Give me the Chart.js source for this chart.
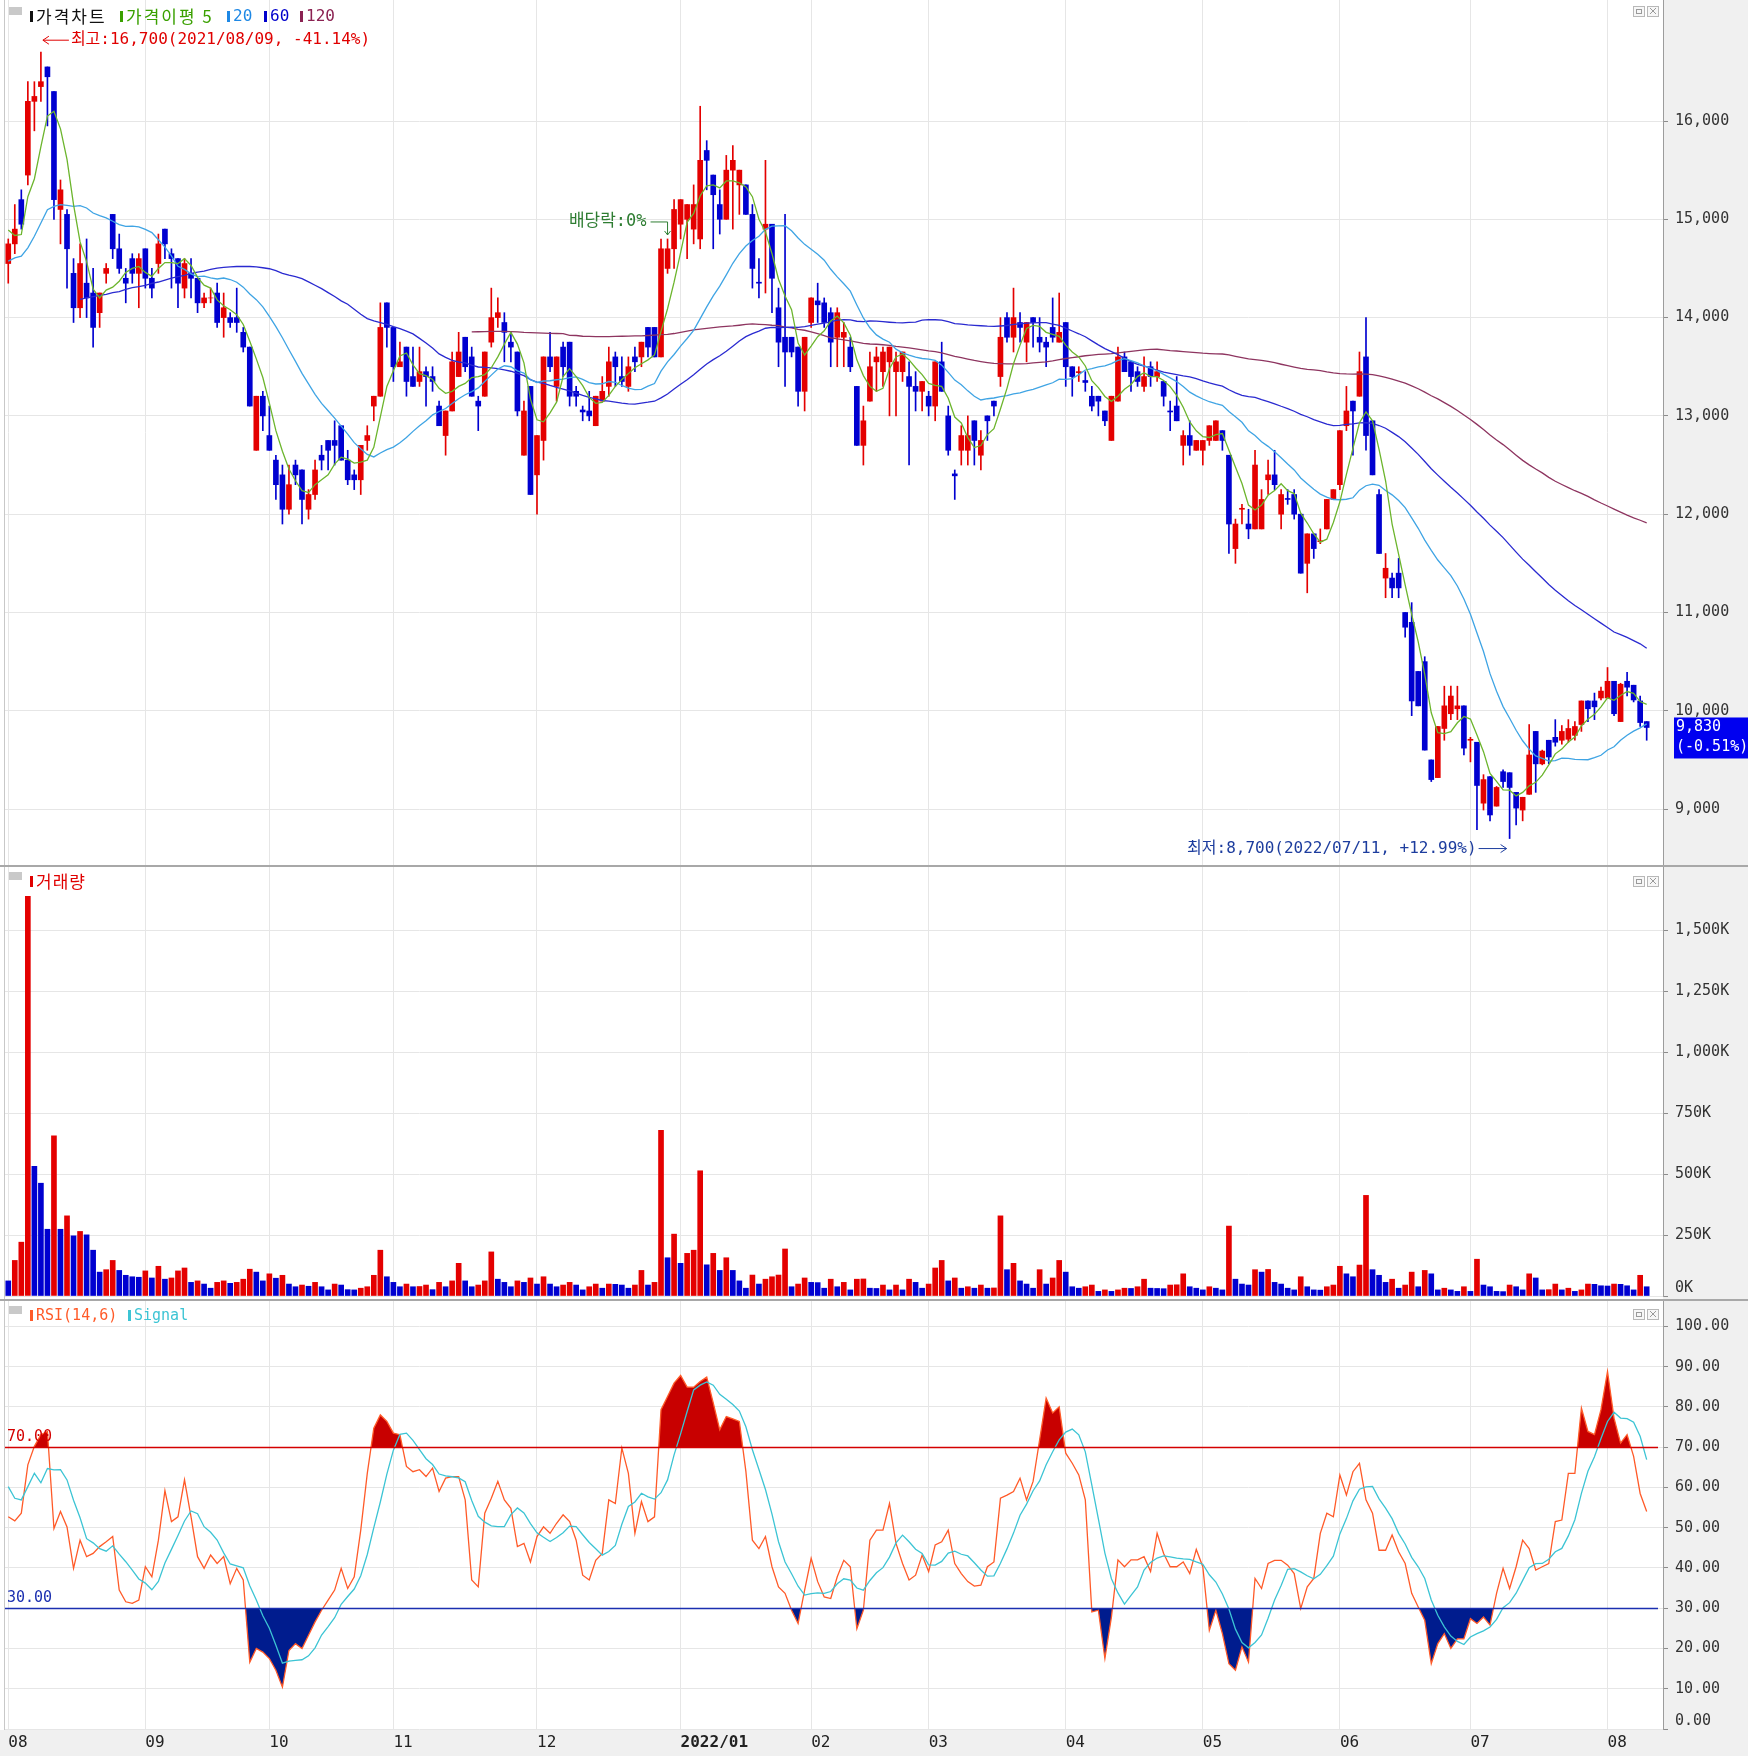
<!DOCTYPE html>
<html lang="ko">
<head>
<meta charset="utf-8">
<title>가격차트</title>
<script src="https://cdn.jsdelivr.net/npm/chart.js@4.4.1/dist/chart.umd.min.js"></script>
<style>
  html, body { margin: 0; padding: 0; }
  body { width: 1748px; height: 1756px; background: #f0f0f0; position: relative; overflow: hidden; }
  .plotbg { position: absolute; left: 0; width: 1663px; background: #fff; }
  canvas { position: absolute; left: 0; }
  .sep { position: absolute; left: 0; width: 1748px; height: 2px; background: #a8a8a8; }
  .vline { position: absolute; left: 4px; top: 0; width: 1px; height: 1730px; background: #c8c8c8; }
</style>
</head>
<body>
<div class="plotbg" style="top:0;height:865px"></div>
<div class="plotbg" style="top:867px;height:432px"></div>
<div class="plotbg" style="top:1301px;height:429px"></div>
<div class="vline"></div>
<canvas id="price" width="1748" height="865" style="top:0"></canvas>
<canvas id="volume" width="1748" height="432" style="top:867px"></canvas>
<canvas id="rsi" width="1748" height="455" style="top:1301px"></canvas>
<div class="sep" style="top:865px"></div>
<div class="sep" style="top:1299px"></div>
<script>
// 일봉 2021/08/02 ~ 2022/08/09
const monthStart = [0, 21, 40, 59, 81, 103, 123, 141, 162, 183, 204, 224, 245]
const monthLabel = ['08', '09', '10', '11', '12', '2022/01', '02', '03', '04', '05', '06', '07', '08']
const priceTicks = [9000, 10000, 11000, 12000, 13000, 14000, 15000, 16000]
const volumeTicks = [0, 250, 500, 750, 1000, 1250, 1500]
const rsiTicks = [0, 10, 20, 30, 40, 50, 60, 70, 80, 90, 100]

const open = [
14550,14750,15200,15450,16200,16350,16550,16300,15100,15050,
14450,14100,14350,14250,14050,14450,15050,14700,14400,14600,
14450,14700,14400,14550,14900,14650,14600,14300,14450,14400,
14150,14200,14250,14000,14000,14000,13850,13700,12650,13200,
12800,12550,12400,12050,12500,12450,12050,12200,12600,12750,
12750,12900,12550,12400,12350,12750,13100,13200,14150,13900,
13500,13700,13400,13350,13450,13400,13100,12800,13050,13400,
13800,13600,13150,13200,13750,14000,13950,13750,13650,12600,
13300,12400,12750,13600,13300,13700,13750,13250,13060,13050,
12900,13150,13300,13600,13400,13300,13600,13600,13900,13900,
13600,14500,14700,14950,15000,14900,14800,15700,15450,15150,
15000,15500,15350,15350,15050,14360,14900,14950,14100,13800,
13800,13700,13250,13950,14170,14150,14050,13800,13800,13700,
13300,12700,13150,13550,13450,13550,13450,13450,13400,13300,
13250,13200,13100,13550,13000,12410,12650,12650,12950,12600,
13000,13150,13400,14000,13800,13950,13750,14000,13800,13750,
13900,13750,13950,13500,13440,13360,13200,13200,13050,12750,
13150,13600,13550,13450,13300,13500,13400,13350,13050,13100,
12700,12800,12650,12650,12750,12750,12850,12600,11650,12050,
11900,11850,11850,12350,12400,12000,12160,12200,12000,11500,
11800,11720,11850,12150,12300,12900,13150,13200,13600,12950,
12200,11350,11350,11400,11000,10900,10400,10500,9500,9320,
9820,9970,10020,10050,9700,9680,9060,9330,9030,9380,
9370,9170,8990,9150,9790,9460,9700,9730,9700,9710,
9750,9860,10100,10100,10130,10130,10300,9890,10300,10260,
10100,9890]

const high = [
14800,15150,15300,16400,16400,16700,16550,16300,15400,15100,
14600,14750,14800,14500,14250,14550,15050,14850,14500,14650,
14650,14700,14500,14850,14900,14700,14600,14600,14600,14400,
14250,14300,14350,14250,14050,14300,13900,13700,13200,13250,
13100,12600,12500,12500,12550,12450,12250,12550,12700,12750,
12950,12900,12650,12450,12700,12900,13200,14150,14150,13900,
13750,13700,13700,13700,13500,13500,13150,13050,13650,13850,
13800,13700,13200,13650,14300,14200,14050,13850,13650,13150,
13300,12800,13600,13850,13600,13750,13750,13300,13100,13250,
13200,13400,13700,13650,13600,13600,13700,13750,13900,13900,
14800,14800,15200,15200,15150,15350,16150,15800,15450,15300,
15650,15750,15500,15350,15150,14600,15600,14950,14300,15050,
13800,13700,13800,14200,14350,14200,14100,14100,13950,13800,
13300,13100,13650,13700,13700,13700,13650,13650,13550,13450,
13350,13250,13550,13750,13100,12450,12900,13000,12950,12850,
13000,13150,14000,14050,14300,14050,13950,14000,14000,13800,
14200,14250,13950,13500,13500,13450,13300,13200,13050,13200,
13700,13650,13550,13500,13600,13550,13550,13350,13150,13400,
12850,12950,12750,12750,12900,12950,12850,12600,11950,12100,
12050,12650,12250,12550,12650,12250,12250,12250,12000,11800,
11800,11850,12150,12250,12850,13300,13150,13650,14000,12950,
12250,11600,11400,11550,11000,11100,10400,10550,9500,9840,
10250,10250,10250,10050,9730,9680,9350,9330,9230,9400,
9370,9170,9120,9860,9790,9600,9700,9910,9850,9910,
9890,10100,10100,10180,10240,10440,10300,10280,10390,10260,
10150,9890]

const low = [
14350,14650,14900,15350,15900,16200,15950,15000,14750,14300,
13950,14000,14000,13700,13900,14350,14600,14450,14150,14350,
14100,14300,14200,14450,14600,14300,14100,14200,14200,14050,
14100,14150,13900,13800,13900,13850,13650,13100,12650,12850,
12650,12150,11900,12000,12300,11900,11950,12150,12450,12450,
12500,12550,12300,12250,12200,12650,12950,13200,13700,13350,
13500,13200,13300,13300,13100,13250,12900,12600,13050,13400,
13450,13200,12850,13200,13700,13900,13550,13550,13000,12600,
12200,12000,12550,13450,13150,13400,13100,13100,12950,12950,
12900,13150,13200,13300,13300,13250,13450,13500,13600,13600,
13600,14450,14500,14800,14600,14750,14700,15300,14700,14850,
15000,14900,15050,15050,14300,14200,14250,14050,13500,13300,
13600,13100,13050,13900,13950,13900,13500,13500,13500,13450,
12700,12500,13150,13250,13300,13000,13000,13350,12500,13050,
13050,13000,12950,13250,12600,12150,12500,12500,12500,12450,
12750,13000,13300,13750,13650,13750,13550,13700,13650,13500,
13750,13750,13300,13200,13350,13250,13050,13000,12900,12750,
13150,13450,13250,13300,13250,13300,13350,13100,12850,12950,
12500,12600,12650,12500,12700,12750,12650,11600,11500,11900,
11750,11850,11850,12200,12250,11850,12100,11950,11400,11200,
11550,11700,11850,12150,12250,12850,12600,13200,12650,12400,
11600,11150,11150,11150,10750,9950,10050,9600,9280,9320,
9700,9910,9910,9550,9480,8790,8990,8880,9030,9220,
8700,8840,8880,9150,9170,9450,9460,9640,9660,9680,
9700,9790,9890,9910,10110,10130,9950,9890,10150,10090,
9840,9700]

const close = [
14750,14900,14950,16200,16250,16400,16450,15200,15300,14700,
14100,14550,14200,13900,14250,14500,14700,14500,14350,14450,
14600,14400,14300,14750,14750,14600,14350,14550,14400,14150,
14200,14200,13950,14100,13950,13950,13700,13100,13200,13000,
12650,12300,12050,12300,12400,12150,12200,12450,12550,12650,
12700,12550,12350,12350,12700,12800,13200,13900,13900,13500,
13550,13350,13300,13450,13400,13350,12900,13050,13550,13650,
13500,13200,13100,13650,14000,14050,13850,13700,13050,13050,
12200,12800,13600,13500,13600,13500,13200,13200,13040,13000,
13200,13250,13550,13500,13350,13500,13550,13750,13700,13600,
14700,14700,15100,15200,15150,15150,15600,15600,15250,15000,
15500,15600,15500,15050,14500,14350,14950,14400,13750,13650,
13650,13250,13800,14200,14130,13950,13750,14050,13850,13500,
12700,12950,13500,13600,13650,13700,13550,13650,13300,13250,
13350,13100,13550,13250,12650,12390,12800,12800,12750,12750,
12950,13100,13800,13800,14000,13900,13950,13950,13750,13700,
13800,13850,13500,13400,13450,13340,13100,13150,12950,13200,
13600,13450,13400,13350,13400,13400,13450,13200,13040,12950,
12800,12700,12750,12750,12900,12950,12750,11900,11900,12060,
11850,12500,12150,12400,12300,12200,12150,12000,11400,11800,
11650,11730,12150,12250,12850,13050,13050,13450,12800,12400,
11600,11450,11250,11250,10850,10100,10050,9600,9300,9840,
10050,10150,10050,9620,9710,9240,9300,8940,9220,9280,
9220,9010,9120,9550,9460,9590,9530,9680,9790,9820,
9840,10100,10020,10040,10200,10300,9970,10270,10240,10110,
9880,9830]

// 거래량 (천주)
const volume = [
62,146,221,1641,532,463,274,657,274,329,
247,265,251,188,98,108,146,105,85,79,
77,103,74,122,69,74,103,115,56,62,
49,32,56,62,52,56,69,110,98,62,
91,73,85,49,38,45,40,56,38,25,
49,45,26,25,32,38,85,188,79,56,
38,49,38,39,45,26,56,38,62,134,
62,38,45,62,181,69,56,38,62,56,
74,49,79,49,38,45,56,45,25,38,
49,32,49,48,45,32,45,105,45,56,
680,157,254,134,175,188,514,128,175,105,
157,105,62,32,86,49,69,79,86,193,
38,49,74,56,55,32,69,38,56,25,
69,70,32,31,45,25,45,25,69,56,
32,49,115,146,62,74,32,38,32,45,
32,33,329,108,134,62,49,32,108,49,
74,146,98,38,32,38,45,19,25,19,
25,32,31,38,69,32,31,30,45,46,
91,38,32,25,38,32,25,287,69,49,
45,108,98,109,56,49,32,25,79,38,
25,24,38,45,122,91,79,127,413,108,
85,56,69,32,45,98,38,105,91,25,
32,25,19,38,19,151,45,38,19,18,
45,38,25,91,74,25,26,49,25,32,
19,25,49,48,42,41,49,48,42,25,
85,38]

const rsi = [
52.7,51.7,53.6,65.6,70.2,73.1,73.9,49.8,54,50.2,
39.9,46.9,42.8,43.6,45.3,46.5,47.8,34.5,31.6,31.2,
32,40.3,37.8,46.9,59.2,51.5,52.7,61.9,52.7,42.8,
39.9,43.2,41.1,42.8,36.1,39.9,37,16.6,20,19.1,
17.5,14.6,10.4,19.5,21.2,20,23.3,26.6,29.5,32,
34.5,39.9,34.9,37.8,49.4,63.5,74.7,78,76.4,73.5,
73.1,65.2,63.9,64.4,62.7,64.8,59,62.3,62.7,62.7,
56.9,37,35.3,53.6,57.3,61.5,56.9,54.8,45.3,46.1,
41.5,47.8,50.2,48.6,51.1,53.2,51.5,46.9,38.2,37,
41.9,43.6,56.9,56,69.8,63.5,48.6,56.5,51.5,52.7,
79.3,82.6,85.9,87.8,84.9,84.9,86.3,87.4,81,74.3,
77.6,77,76.4,64,46.9,44.8,47.8,40.3,35.3,33.7,
29.5,26.2,34.5,42.4,36.6,32.8,32.4,37.8,41.9,40.3,
24.9,29.5,46.9,49.4,49.4,56,46.1,41.1,37,38.2,
43.2,39.1,45.7,46.5,49.4,41.1,38.6,36.6,35.5,35.7,
40.3,41.5,57.3,58.1,59,62.3,56.9,61.5,71.8,82.2,
78.5,80,68.5,66,63.1,56.9,29.1,29.5,17.5,27.8,
42,40.3,42,42,42.8,39.1,48.6,43.6,40.3,40.3,
41.5,38.6,44.6,40.3,24.5,29.5,23.7,16.2,14.6,20.4,
16.6,37.4,34.9,41.1,41.9,41.9,40.7,38.6,29.9,35.3,
37.4,48.6,53.6,52.7,63.1,58.1,63.9,66,56.9,53.6,
44.4,44.4,48.2,44,41.1,33.7,30.3,27,16.2,21.2,
23.7,20,22.4,22.4,27.4,26.2,27.8,25.8,33.7,39.9,
34.9,40.3,46.9,44.8,39.5,40.3,41.1,51.5,51.9,63.5,
63.5,79.7,73.9,73.1,79.3,88.8,77.2,71,73.1,67.7,
58.5,54]

// 차트 시작 전 데이터가 필요한 구간은 그림에서 읽은 값
const ma5Lead = [14890, 14835, 14845, 15230]
const ma20Lead = [14574,14608,14625,14710,14828,14963,15098,15132,15149,15142,15132,15139,15115,15064,15037,15014,14980,14946,14929]
const ma60Start = 11
const ma60Lead = [14186,14200,14213,14227,14237,14254,14264,14287,14304,14314,14328,14348,14362,14382,14402,14416,
  14429,14449,14463,14473,14490,14504,14510,14517,14520,14520,14520,14517,14507,14497,14477,14449,
  14431,14417,14397,14363,14329,14295,14254,14214,14170,14136,14085,14034,13990,13966,13949,13932]
const ma120Start = 71
const ma120Lead = [13854,13856,13858,13860,13860,13860,13858,13855,13850,13848,13845,13842,13840,13838,13836,
  13820,13818,13810,13808,13807,13807,13807,13808,13810,13812,13813,13815,13818,13822,13826,13830,13838,
  13850,13862,13874,13882,13891,13898,13905,13910,13915,13922,13930,13936,13932,13928,13922,13918]
const signalLead = [60.2, 57.3, 56.9, 60.2, 63.5]

const highDate = '2021/08/09'
const lowDate = '2022/07/11'
const exDivIndex = 101
const rsiUpper = 70
const rsiLower = 30

const RED = '#e40000'
const BLUE = '#0000d0'
const GRID = '#e6e6e6'
const MONO = "'DejaVu Sans Mono', 'Noto Sans CJK KR', monospace"
const KOR = "'Noto Sans CJK KR', sans-serif"
Chart.defaults.font.family = MONO

const N = close.length
const labels = Array.from({ length: N + 2 }, (_, i) => i)

const movingAvg = (src, n, lead, leadStart) => src.map((_, i) => {
  if (i >= n - 1) {
    let s = 0
    for (let k = i - n + 1; k <= i; k++) s += src[k]
    return s / n
  }
  const j = i - leadStart
  return j >= 0 && j < lead.length ? lead[j] : null
})

const ma5 = movingAvg(close, 5, ma5Lead, 0)
const ma20 = movingAvg(close, 20, ma20Lead, 0)
const ma60 = movingAvg(close, 60, ma60Lead, ma60Start)
const ma120 = movingAvg(close, 120, ma120Lead, ma120Start)
const signal = movingAvg(rsi, 6, signalLead, 0)

const candleColor = close.map((c, i) => c >= open[i] ? RED : BLUE)
const volumeColor = volume.map((v, i) => i > 0 && v > volume[i - 1] ? RED : BLUE)

const fmt = v => v.toLocaleString('en-US')
const pct = (a, b) => {
  const p = (a / b - 1) * 100
  return (p >= 0 ? '+' : '') + p.toFixed(2) + '%'
}

const xScale = showLabels => ({
  type: 'category',
  offset: true,
  grid: { offset: false, color: GRID, drawTicks: false },
  border: { display: false },
  ticks: {
    display: showLabels,
    autoSkip: false,
    maxRotation: 0,
    align: 'start',
    padding: 4,
    color: '#222',
    font: ctx => ({ family: MONO, size: 16, weight: ctx.index === 5 ? 'bold' : 'normal' }),
    callback: (v, k) => monthLabel[k]
  },
  afterBuildTicks: s => { s.ticks = monthStart.map(v => ({ value: v })) },
  afterFit: s => {
    s.height = showLabels ? 27 : 0
    s.paddingLeft = 0
    s.paddingRight = 0
  }
})

// 맨 아래 눈금 글자(0)는 플러그인에서 조금 위로 올려 그림
const yScale = (min, max, ticks, label) => ({
  position: 'right',
  min, max,
  beginAtZero: false,
  grid: { color: GRID, tickColor: '#8c8c8c', tickLength: 5 },
  border: { display: true, color: '#9c9c9c' },
  ticks: { color: '#333', padding: 7, font: { family: MONO, size: 15 }, callback: v => v === 0 ? '' : label(v) },
  afterBuildTicks: s => { s.ticks = ticks.map(v => ({ value: v })) },
  afterFit: s => {
    s.width = 85
    s.paddingTop = 0
    s.paddingBottom = 0
  }
})

const drawZeroLabel = (chart, text) => {
  const { ctx, chartArea: a, scales: { y } } = chart
  ctx.save()
  ctx.fillStyle = '#333'
  ctx.font = `15px ${MONO}`
  ctx.textAlign = 'left'
  ctx.textBaseline = 'middle'
  ctx.fillText(text, a.right + 12, y.getPixelForValue(0) - 8)
  ctx.restore()
}

// 범례: 색 막대 + 글자, 각 항목의 x 위치를 지정
const drawLegend = (ctx, y, items) => {
  ctx.save()
  ctx.textBaseline = 'middle'
  ctx.textAlign = 'left'
  ctx.fillStyle = '#c9c9c9'
  ctx.fillRect(9, y - 9, 13, 8)
  for (const it of items) {
    ctx.fillStyle = it.mark || it.color
    ctx.fillRect(it.at, y - 5, 3, 11)
    ctx.fillStyle = it.color
    ctx.font = it.font
    ctx.letterSpacing = it.spacing || '0px'
    ctx.fillText(it.text, it.at + 6, y + 1)
  }
  ctx.restore()
}

const drawWinIcons = (ctx, y) => {
  ctx.save()
  ctx.strokeStyle = '#b8b8b8'
  ctx.fillStyle = '#f7f7f7'
  for (const bx of [1633, 1647]) {
    ctx.fillRect(bx, y, 11, 10)
    ctx.strokeRect(bx + 0.5, y + 0.5, 11, 10)
  }
  ctx.strokeStyle = '#9a9a9a'
  ctx.strokeRect(1636.5, y + 3.5, 5, 4)
  ctx.beginPath()
  ctx.moveTo(1650, y + 2); ctx.lineTo(1656, y + 8)
  ctx.moveTo(1656, y + 2); ctx.lineTo(1650, y + 8)
  ctx.stroke()
  ctx.restore()
}

const priceDeco = {
  id: 'priceDeco',
  afterDraw(chart) {
    const { ctx, scales: { x, y } } = chart
    drawLegend(ctx, 16, [
      { at: 30, text: '가격차트', color: '#111', font: `17px ${KOR}`, spacing: '2px' },
      { at: 120, text: '가격이평 5', color: '#3aa000', font: `17px ${KOR}`, spacing: '2px' },
      { at: 227, text: '20', color: '#1e88e5', font: `16px ${MONO}` },
      { at: 264, text: '60', color: '#0000cc', font: `16px ${MONO}` },
      { at: 300, text: '120', color: '#8b2252', font: `16px ${MONO}` }
    ])
    drawWinIcons(ctx, 6)

    ctx.save()
    ctx.lineWidth = 1
    ctx.textBaseline = 'middle'
    const last = close[N - 1]

    // 최고가
    const hi = high.indexOf(Math.max(...high))
    const hx = x.getPixelForValue(hi) + 2
    const hy = y.getPixelForValue(high[hi]) - 12
    ctx.strokeStyle = ctx.fillStyle = '#e00000'
    ctx.beginPath()
    ctx.moveTo(hx, hy); ctx.lineTo(hx + 26, hy)
    ctx.moveTo(hx, hy); ctx.lineTo(hx + 6, hy - 4)
    ctx.moveTo(hx, hy); ctx.lineTo(hx + 6, hy + 4)
    ctx.stroke()
    ctx.font = `16px ${MONO}`
    ctx.textAlign = 'left'
    ctx.fillText(`최고:${fmt(high[hi])}(${highDate}, ${pct(last, high[hi])})`, hx + 28, hy)

    // 최저가
    const lo = low.indexOf(Math.min(...low))
    const lx = x.getPixelForValue(lo) - 3
    const ly = y.getPixelForValue(low[lo]) + 10
    ctx.strokeStyle = ctx.fillStyle = '#1d3d9e'
    ctx.beginPath()
    ctx.moveTo(lx - 28, ly); ctx.lineTo(lx, ly)
    ctx.moveTo(lx, ly); ctx.lineTo(lx - 6, ly - 4)
    ctx.moveTo(lx, ly); ctx.lineTo(lx - 6, ly + 4)
    ctx.stroke()
    ctx.textAlign = 'right'
    ctx.fillText(`최저:${fmt(low[lo])}(${lowDate}, ${pct(last, low[lo])})`, lx - 30, ly)

    // 배당락
    const ex = x.getPixelForValue(exDivIndex)
    const ey = y.getPixelForValue(high[exDivIndex])
    ctx.strokeStyle = ctx.fillStyle = '#2e7d32'
    ctx.beginPath()
    ctx.moveTo(ex - 17, ey - 17); ctx.lineTo(ex, ey - 17); ctx.lineTo(ex, ey - 4)
    ctx.moveTo(ex - 3, ey - 8); ctx.lineTo(ex, ey - 4); ctx.lineTo(ex + 3, ey - 8)
    ctx.stroke()
    ctx.font = `17px ${MONO}`
    ctx.fillText('배당락:0%', ex - 21, ey - 17)

    // 현재가 박스
    const cy = y.getPixelForValue(last)
    ctx.fillStyle = '#0000f0'
    ctx.fillRect(1674, cy - 10, 74, 41)
    ctx.fillStyle = '#fff'
    ctx.textAlign = 'left'
    ctx.font = `15px ${MONO}`
    ctx.fillText(fmt(last), 1676, cy)
    ctx.fillText(`(${pct(last, close[N - 2])})`, 1676, cy + 20)
    ctx.restore()
  }
}

const volumeDeco = {
  id: 'volumeDeco',
  afterDraw(chart) {
    drawLegend(chart.ctx, 14, [{ at: 30, text: '거래량', color: '#e00000', font: `17px ${KOR}`, spacing: '1px' }])
    drawWinIcons(chart.ctx, 9)
    drawZeroLabel(chart, '0K')
  }
}

const rsiDeco = {
  id: 'rsiDeco',
  afterDatasetsDraw(chart) {
    const { ctx, chartArea: a, scales: { y } } = chart
    ctx.save()
    ctx.lineWidth = 1.5
    for (const [v, c] of [[rsiUpper, '#d40000'], [rsiLower, '#1b2fb0']]) {
      const py = Math.round(y.getPixelForValue(v)) + 0.5
      ctx.strokeStyle = c
      ctx.beginPath(); ctx.moveTo(a.left, py); ctx.lineTo(a.right - 5, py); ctx.stroke()
      ctx.fillStyle = c
      ctx.font = `15px ${MONO}`
      ctx.textBaseline = 'middle'
      ctx.fillText(v.toFixed(2), 7, py - 10)
    }
    ctx.restore()
  },
  afterDraw(chart) {
    drawLegend(chart.ctx, 14, [
      { at: 30, text: 'RSI(14,6)', color: '#ff5a28', font: `15px ${MONO}` },
      { at: 128, text: 'Signal', color: '#3cc4d4', font: `15px ${MONO}` }
    ])
    drawWinIcons(chart.ctx, 8)
    drawZeroLabel(chart, '0.00')
  }
}

const common = {
  responsive: false,
  animation: false,
  events: [],
  plugins: { legend: { display: false }, tooltip: { enabled: false } }
}

new Chart(document.getElementById('price'), {
  type: 'bar',
  data: {
    labels,
    datasets: [
      { type: 'line', data: ma5, borderColor: '#6cb52d', borderWidth: 1.3, pointRadius: 0, order: 1 },
      { type: 'line', data: ma20, borderColor: '#3fa4e4', borderWidth: 1.3, pointRadius: 0, order: 1 },
      { type: 'line', data: ma60, borderColor: '#2a2ad0', borderWidth: 1.3, pointRadius: 0, order: 1 },
      { type: 'line', data: ma120, borderColor: '#8e3560', borderWidth: 1.3, pointRadius: 0, order: 1 },
      { data: low.map((l, i) => [l, high[i]]), backgroundColor: candleColor, barThickness: 1, grouped: false, order: 3 },
      { data: open.map((o, i) => [o, close[i]]), backgroundColor: candleColor, barThickness: 5, grouped: false, order: 2 }
    ]
  },
  options: {
    ...common,
    layout: { padding: { left: 5, right: 0, top: 0, bottom: 0 } },
    scales: {
      x: xScale(false),
      y: yScale(8431, 17231, priceTicks, v => fmt(v))
    }
  },
  plugins: [priceDeco]
})

new Chart(document.getElementById('volume'), {
  type: 'bar',
  data: {
    labels,
    datasets: [{ data: volume, backgroundColor: volumeColor, barThickness: 5 }]
  },
  options: {
    ...common,
    layout: { padding: { left: 5, right: 0, top: 0, bottom: 3 } },
    scales: {
      x: xScale(false),
      y: yScale(0, 1761, volumeTicks, v => fmt(v) + 'K')
    }
  },
  plugins: [volumeDeco]
})

new Chart(document.getElementById('rsi'), {
  type: 'line',
  data: {
    labels,
    datasets: [
      { data: rsi, borderColor: 'rgba(0,0,0,0)', pointRadius: 0,
        fill: { target: { value: rsiUpper }, above: '#c80000', below: 'rgba(0,0,0,0)' }, order: 4 },
      { data: rsi, borderColor: 'rgba(0,0,0,0)', pointRadius: 0,
        fill: { target: { value: rsiLower }, above: 'rgba(0,0,0,0)', below: '#001c8e' }, order: 3 },
      { data: rsi, borderColor: '#ff5a28', borderWidth: 1.3, pointRadius: 0, fill: false, order: 2 },
      { data: signal, borderColor: '#3cc4d4', borderWidth: 1.3, pointRadius: 0, fill: false, order: 1 }
    ]
  },
  options: {
    ...common,
    layout: { padding: { left: 5, right: 0, top: 0, bottom: 0 } },
    scales: {
      x: xScale(true),
      y: yScale(0, 106.3, rsiTicks, v => v.toFixed(2))
    }
  },
  plugins: [rsiDeco]
})
</script>
</body>
</html>
